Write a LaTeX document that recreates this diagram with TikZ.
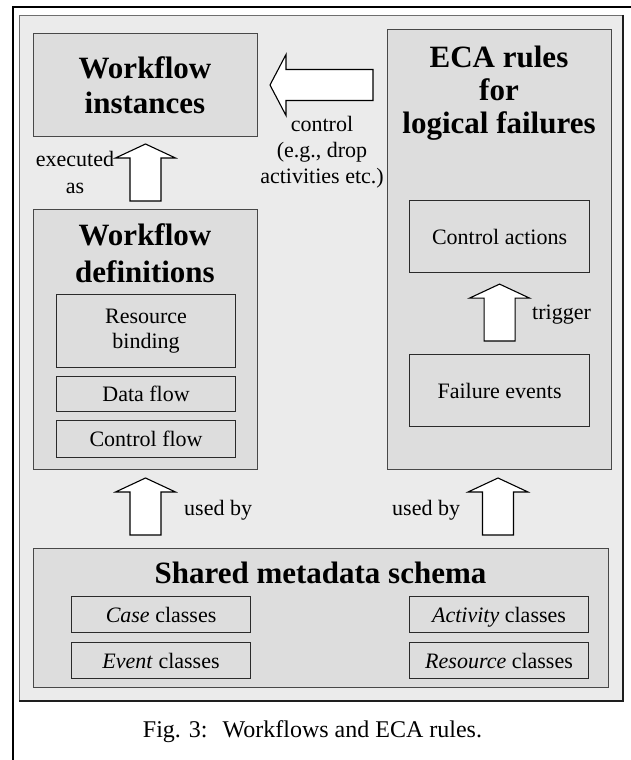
\documentclass[tikz,border=0pt]{standalone}
\usepackage{fontspec}
\setmainfont{Liberation Serif}
\usetikzlibrary{calc}

\definecolor{panelfill}{HTML}{EBEBEB}
\definecolor{panelline}{HTML}{6E6E6E}
\definecolor{shadowline}{HTML}{1E1E1E}
\definecolor{boxfill}{HTML}{DDDDDD}
\definecolor{boxline}{HTML}{484848}
\definecolor{partline}{HTML}{2A2A2A}

\newcommand\wfbold{\bfseries\fontsize{31}{35}\selectfont}
\newcommand\wftext{\fontsize{22}{26}\selectfont}

% upward block arrow: tip at #1, tail level given by #2
\newcommand\upblock[2]{%
  \draw[blockarrow] (#1) -- ++(30,14) -- ++(-14.5,0)
    -- ($(#1 |- #2)+(15.5,0)$) -- ++(-31,0)
    -- ($(#1)+(-15.5,14)$) -- ++(-14.5,0) -- cycle;}

\begin{document}
\begin{tikzpicture}[x=1pt, y=-1pt,
  box/.style={draw=boxline, fill=boxfill, line width=1pt, inner sep=0pt, anchor=north west},
  part/.style={box, draw=partline, line width=1.1pt, font=\wftext, align=center},
  oneline/.style={part, text height=15pt, text depth=0pt},
  title/.style={font=\wfbold, align=center, inner sep=0pt, anchor=north},
  lbl/.style={font=\wftext, align=center, inner sep=0pt},
  blockarrow/.style={draw=black, fill=white, line width=1.1pt, line join=miter}]

\useasboundingbox (0,0) rectangle (630,760);

% outer frame
\draw[line width=2.2pt] (13,765) -- (13,7) -- (635,7);

% light panel with darker lower/right edge
\fill[panelfill] (19,15) rectangle (623,701);
\draw[panelline, line width=0.8pt] (19,701) -- (19,15) -- (623,15);
\draw[shadowline, line width=1.8pt] (623,15) -- (623,701) -- (19,701);

% main boxes
\node[box, minimum width=224pt, minimum height=103pt] (wi) at (33,33) {};
\node[box, minimum width=224pt, minimum height=260pt] (wd) at (33,209) {};
\node[box, minimum width=224pt, minimum height=440pt] (eca) at (387,29) {};
\node[box, minimum width=575pt, minimum height=139pt] (shared) at (33,548) {};

% titles
\node[title] (wititle) at (145,53) {\rule{0pt}{25pt}Workflow\\instances};
\node[title, font=\bfseries\fontsize{31}{37}\selectfont] (wdtitle) at (145,220) {\rule{0pt}{25pt}Workflow\\definitions};
\node[title, font=\bfseries\fontsize{31}{33}\selectfont] (ecatitle) at (499,42) {\rule{0pt}{25pt}ECA rules\\for\\logical failures};
\node[font=\wfbold, inner sep=0pt, anchor=base] (sharedtitle) at (320.5,583) {Shared metadata schema};

% parts of the workflow definitions
\node[part, minimum width=179pt, minimum height=73pt, font=\fontsize{22}{25}\selectfont] (rb) at (56,294) {Resource\\binding};
\node[oneline, minimum width=179pt, minimum height=35pt] (df) at (56,376) {Data flow};
\node[oneline, minimum width=179pt, minimum height=37pt] (cf) at (56,420) {Control flow};

% parts of the ECA rules
\node[oneline, minimum width=180pt, minimum height=72pt] (ca) at (409,200) {Control actions};
\node[oneline, minimum width=180pt, minimum height=72pt] (fe) at (409,354) {Failure events};

% metadata classes
\node[oneline, minimum width=179pt, minimum height=36pt] (cc) at (71,596) {\textit{Case} classes};
\node[oneline, minimum width=179pt, minimum height=36pt] (ec) at (71,642) {\textit{Event} classes};
\node[oneline, minimum width=179pt, minimum height=36pt] (ac) at (409,596) {\textit{Activity} classes};
\node[oneline, minimum width=179pt, minimum height=36pt] (rc) at (409,642) {\textit{Resource} classes};

% block arrows
\coordinate (t1) at ($(wi.south)+(0,7)$);
\coordinate (b1) at ($(wd.north)+(0,-8)$);
\upblock{t1}{b1}

\coordinate (t2) at ($(wd.south)+(0,8)$);
\coordinate (b2) at ($(shared.north)+(0,-13)$);
\upblock{t2}{b2}

\coordinate (t3) at ($(ca.south)+(0,11)$);
\coordinate (b3) at ($(fe.north)+(0,-13)$);
\upblock{t3}{b3}

\coordinate (t4) at ($(eca.south)+(-1.5,8)$);
\upblock{t4}{b2}

\coordinate (ct) at ($(wi.east)+(12,0)$);
\coordinate (cb) at ($(eca.west)+(-14,0)$);
\draw[blockarrow] (ct) -- ++(16,-30.5) -- ++(0,15)
  -- ($(ct -| cb)+(0,-15.5)$) -- ++(0,31)
  -- ($(ct)+(16,15.5)$) -- ++(0,15) -- cycle;

% arrow labels
\node[lbl, anchor=north] (ctrl) at (322,113) {\rule{0pt}{18pt}control\\(e.g., drop\\activities etc.)};
\node[lbl, anchor=north, font=\fontsize{22}{27}\selectfont] (exec) at (75,148) {\rule{0pt}{18pt}executed\\as};
\node[lbl, anchor=base west] (trig) at (532,319) {trigger};
\node[lbl, anchor=base west] (usedl) at (184,515) {used by};
\node[lbl, anchor=base west] (usedr) at (392,515) {used by};

% caption
\node[inner sep=0pt, anchor=base, font=\fontsize{24}{28}\selectfont] (caption) at (312.5,737) {Fig. 3:\hspace{15pt}Workflows and ECA rules.};

\end{tikzpicture}
\end{document}
